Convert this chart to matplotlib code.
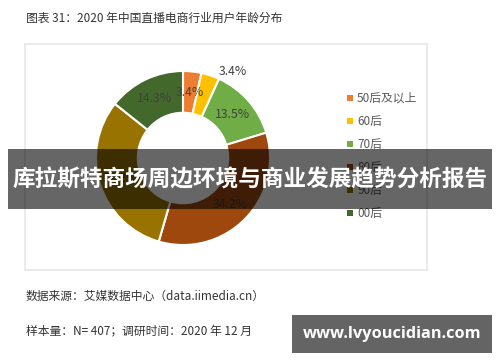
import matplotlib
matplotlib.use("Agg")
import matplotlib.pyplot as plt
import numpy as np
from matplotlib.patches import Rectangle

plt.rcParams["font.family"] = ["Noto Sans CJK SC", "DejaVu Sans"]

# data
groups = ["50后及以上", "60后", "70后", "80后", "90后", "00后"]
shares = [3.4, 3.4, 13.5, 34.2, 31.2, 14.3]
colors = ["#ED7D31", "#FFC000", "#70AD47", "#9E480E", "#997300", "#43682B"]

title = "图表 31：2020 年中国直播电商行业用户年龄分布"
source = "数据来源：艾媒数据中心（data.iimedia.cn）"
sample = "样本量：N= 407；调研时间：2020 年 12 月"
banner = "库拉斯特商场周边环境与商业发展趋势分析报告"
site = "www.lvyoucidian.com"

W, H = 500, 362
fig = plt.figure(figsize=(W / 100, H / 100), dpi=100)

# overlay layer in pixel coords (top-left origin)
frame = fig.add_axes([0, 0, 1, 1], zorder=2)
frame.set_xlim(0, W)
frame.set_ylim(H, 0)
frame.axis("off")
frame.patch.set_alpha(0)
frame.add_patch(Rectangle((25, 44), 402, 226, fill=False, ec="#E6E6E6", lw=1.2))

# donut
cx, cy, R = 183, 158, 87
span = 2.2 * R
ax = fig.add_axes([(cx - span / 2) / W, (H - cy - span / 2) / H, span / W, span / H], zorder=1)
ax.pie(shares, colors=colors, startangle=90, counterclock=False, radius=1,
       wedgeprops=dict(width=0.48, edgecolor="white", linewidth=1.5))
ax.set_xlim(-1.1, 1.1)
ax.set_ylim(-1.1, 1.1)
ax.set_aspect("equal")
ax.axis("off")

# value labels
cum = np.cumsum([0] + shares)
for i, v in enumerate(shares):
    ang = (cum[i] + cum[i + 1]) / 2 / 100 * 2 * np.pi
    r = 0.76
    if groups[i] == "60后":
        r, ang = 1.14, ang + 0.2
    ax.text(r * np.sin(ang), r * np.cos(ang), f"{v}%", ha="center", va="center",
            fontsize=8.8, color="#404040")

# legend
for i, (g, c) in enumerate(zip(groups, colors)):
    y = 98 + i * 23
    frame.add_patch(Rectangle((347, y - 3), 6, 6, color=c, lw=0))
    frame.text(357, y, g, ha="left", va="center", fontsize=8.5, color="#595959")

# texts
frame.text(26, 18, title, ha="left", va="center", fontsize=8.5, color="#333333")
frame.text(26, 296, source, ha="left", va="center", fontsize=8.5, color="#333333")
frame.text(26, 331, sample, ha="left", va="center", fontsize=8.5, color="#333333")

# overlay banner
frame.add_patch(Rectangle((8, 149), 484, 60, color="#000000", alpha=0.6, lw=0, zorder=5))
frame.text(250, 180, banner, ha="center", va="center", fontsize=16.3, color="white",
           fontweight="bold", zorder=6)

# site box
frame.add_patch(Rectangle((292, 315), 200, 38, color="#646464", lw=0, zorder=5))
frame.text(392, 334, site, ha="center", va="center", fontsize=11.8, color="white",
           fontweight="bold", family=["Open Sans", "DejaVu Sans"], zorder=6)

fig.savefig("out.png", dpi=100)
